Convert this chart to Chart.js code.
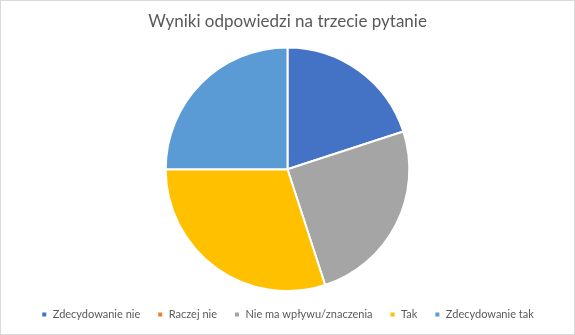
<!DOCTYPE html>
<html>
<head>
<meta charset="utf-8">
<script src="https://cdn.jsdelivr.net/npm/chart.js@4"></script>
<style>
    html, body { margin: 0; padding: 0; background: #ffffff; }
    #wrap { position: relative; width: 573px; height: 333px; border: 1px solid #d9d9d9; }
</style>
</head>
<body>
<div id="wrap"><canvas id="answers"></canvas></div>
<script>
// answers to question 3 (share of responses, %)
const categories = ['Zdecydowanie nie', 'Raczej nie', 'Nie ma wpływu/znaczenia', 'Tak', 'Zdecydowanie tak'];
const values = [20, 0, 25, 30, 25];
const colors = ['#4472C4', '#ED7D31', '#A5A5A5', '#FFC000', '#5B9BD5'];
const chartTitle = 'Wyniki odpowiedzi na trzecie pytanie';

let ctx = document.getElementById('answers').getContext('2d');

new Chart(ctx, {
    type: 'pie',
    data: {
        labels: categories,
        datasets: [{
            data: values,
            backgroundColor: colors,
            borderColor: '#ffffff',
            borderWidth: 2
        }]
    },
    options: {
        responsive: true,
        maintainAspectRatio: false,
        animation: false,
        layout: {
            padding: { top: 0, bottom: 4, left: 0, right: 0 }
        },
        plugins: {
            title: {
                display: true,
                text: chartTitle,
                color: '#595959',
                font: { family: 'Lato', size: 17, weight: 'normal' },
                padding: { top: 10, bottom: 15 }
            },
            legend: {
                position: 'bottom',
                labels: {
                    color: '#595959',
                    font: { family: 'Lato', size: 11 },
                    boxWidth: 6,
                    boxHeight: 6,
                    padding: 17
                }
            },
            tooltip: { enabled: false }
        }
    }
});
</script>
</body>
</html>
